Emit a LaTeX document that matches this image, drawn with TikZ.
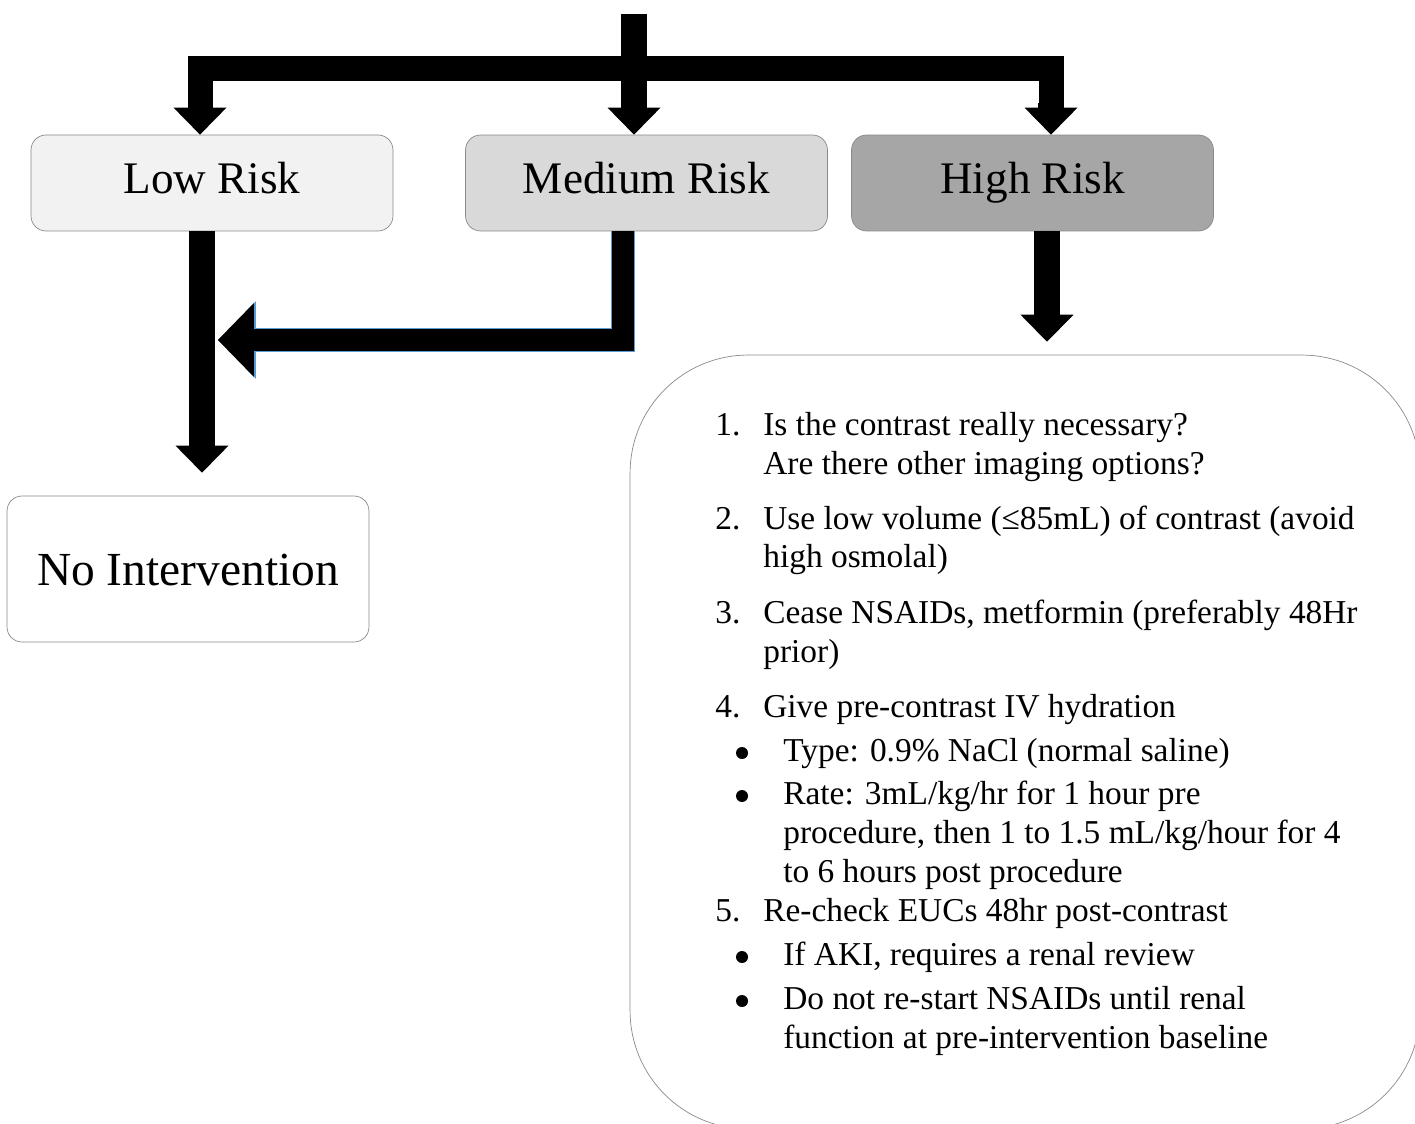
\documentclass[tikz,border=0pt]{standalone}
\usepackage{fontspec}
\setmainfont{Liberation Serif}
\usepackage{tikz}
\usetikzlibrary{
  positioning,
  arrows.meta
}
\usepackage{xcolor}
\definecolor{boxedge}{HTML}{898989}
\definecolor{lowfill}{HTML}{F2F2F2}
\definecolor{medfill}{HTML}{D9D9D9}
\definecolor{highfill}{HTML}{A6A6A6}
\definecolor{edgeblue}{HTML}{5B9BD5}

\begin{document}
\begin{tikzpicture}[x=0.02cm,y=-0.02cm,
    riskbox/.style={draw=boxedge,rounded corners=0.3cm,minimum width=7.24cm,minimum height=1.92cm,inner sep=0pt,text height=18pt,text depth=6.4pt,font=\fontsize{25.7}{30}\selectfont},
    fat/.style={line width=0.52cm,line join=miter,-{Triangle[width=1.06cm,length=0.54cm,line width=0pt]}},
    bar/.style={line width=0.5cm,line join=miter},
    medarrow/.style={line width=0.44cm,line join=miter,-{Triangle[width=1.48cm,length=0.72cm,line width=0pt]},
        preaction={draw=edgeblue,line width=0.48cm,-{Triangle[width=1.56cm,length=0.76cm,line width=0pt]}}},
    listtxt/.style={anchor=base west,inner sep=0pt,font=\fontsize{19}{22}\selectfont},
    listnum/.style={anchor=base west,inner sep=0pt,font=\fontsize{19}{22}\selectfont},
    dot/.style={circle,fill,inner sep=0pt,minimum size=0.24cm,yshift=0.16cm}]
        \useasboundingbox (0,0) rectangle (1415,1124);

        % risk levels
        \node[riskbox,fill=lowfill] (low) at (212,183) {Low Risk};
        \node[riskbox,fill=medfill] (med) at (646.5,183) {Medium Risk};
        \node[riskbox,fill=highfill] (high) at (1032.5,183) {High Risk};
        \node[riskbox,fill=white,minimum height=2.92cm,text height=19pt,text depth=0pt,font=\fontsize{27}{31}\selectfont] (nointv) at (188,569) {No Intervention};
        \node[draw=boxedge,rounded corners=2.36cm,minimum width=15.8cm,minimum height=15.48cm] (plan) at (1025,742) {};

        % top split
        \coordinate (src) at (634,14);
        \coordinate (split) at (634,69);
        \draw[bar] (split) -| ([xshift=-0.24cm,yshift=0.5cm]low.north);
        \draw[bar] (split) -| ([xshift=0.37cm,yshift=0.6cm]high.north);
        \draw[fat] ([xshift=-0.24cm,yshift=0.54cm]low.north) -- ([xshift=-0.24cm]low.north);
        \draw[fat] ([xshift=0.37cm,yshift=0.64cm]high.north) -- ([xshift=0.37cm]high.north);
        \draw[fat] (src) -- (src |- med.north);

        % down from the boxes
        \coordinate (nitop) at ([yshift=0.46cm]nointv.north);
        \draw[fat] ([xshift=-0.2cm]low.south) -- ([xshift=-0.2cm]low.south |- nitop);
        \coordinate (merge) at (218,340);
        \draw[medarrow] ([xshift=-0.47cm]med.south) |- (merge);
        \draw[fat] ([xshift=0.29cm]high.south) -- ([xshift=0.29cm,yshift=0.26cm]high.south |- plan.north);

        % high risk steps
        \node[listnum] (n1) at (715,436) {1.};
        \node[listtxt] (t1a) at (763,436) {Is the contrast really necessary?};
        \node[listtxt] (t1b) at (763,475) {Are there other imaging options?};
        \node[listnum] (n2) at (715,529) {2.};
        \node[listtxt] (t2a) at (763,529) {Use low volume (≤85mL) of contrast (avoid};
        \node[listtxt] (t2b) at (763,567) {high osmolal)};
        \node[listnum] (n3) at (715,623) {3.};
        \node[listtxt] (t3a) at (763,623) {Cease NSAIDs, metformin (preferably 48Hr};
        \node[listtxt] (t3b) at (763,662) {prior)};
        \node[listnum] (n4) at (715,717) {4.};
        \node[listtxt] (t4) at (763,717) {Give pre-contrast IV hydration};
        \node[dot] (d4a) at (742,761) {};
        \node[listtxt] (t4a) at (783,761) {Type: 0.9\% NaCl (normal saline)};
        \node[dot] (d4b) at (742,804) {};
        \node[listtxt] (t4b) at (783,804) {Rate: 3mL/kg/hr for 1 hour pre};
        \node[listtxt] (t4c) at (783,843) {procedure, then 1 to 1.5 mL/kg/hour for 4};
        \node[listtxt] (t4d) at (783,882) {to 6 hours post procedure};
        \node[listnum] (n5) at (715,921) {5.};
        \node[listtxt] (t5) at (763,921) {Re-check EUCs 48hr post-contrast};
        \node[dot] (d5a) at (742,965) {};
        \node[listtxt] (t5a) at (783,965) {If AKI, requires a renal review};
        \node[dot] (d5b) at (742,1009) {};
        \node[listtxt] (t5b) at (783,1009) {Do not re-start NSAIDs until renal};
        \node[listtxt] (t5c) at (783,1048) {function at pre-intervention baseline};
\end{tikzpicture}
\end{document}
